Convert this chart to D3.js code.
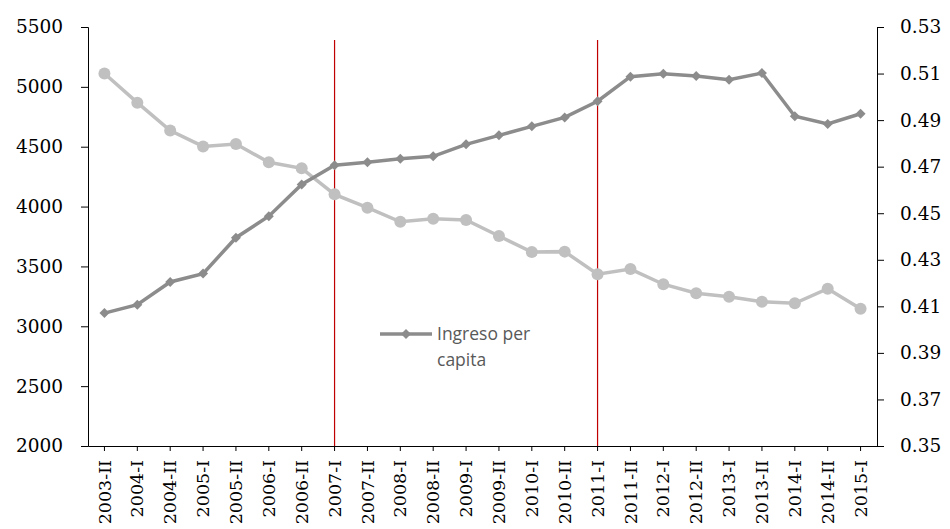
<!DOCTYPE html>
<html><head><meta charset="utf-8">
<script src="https://cdn.jsdelivr.net/npm/d3@7"></script>
<style>body{margin:0;background:#fff}svg{display:block}</style>
</head><body>
<svg id="c" width="950" height="529"></svg>
<script>
const categories = ["2003-II","2004-I","2004-II","2005-I","2005-II","2006-I","2006-II","2007-I","2007-II","2008-I","2008-II","2009-I","2009-II","2010-I","2010-II","2011-I","2011-II","2012-I","2012-II","2013-I","2013-II","2014-I","2014-II","2015-I"];
const ingreso = [3110,3180,3370,3440,3740,3920,4185,4345,4370,4400,4420,4520,4595,4670,4745,4880,5085,5110,5090,5060,5115,4755,4690,4775];
const gini = [0.510,0.4975,0.4855,0.4787,0.4797,0.4719,0.4693,0.4581,0.4524,0.4463,0.4476,0.4471,0.4402,0.4333,0.4335,0.4238,0.4260,0.4195,0.4156,0.4141,0.4120,0.4113,0.4176,0.4090];
const leftTicks = [2000,2500,3000,3500,4000,4500,5000,5500];
const rightTicks = [0.35,0.37,0.39,0.41,0.43,0.45,0.47,0.49,0.51,0.53];
const markerCats = ["2007-I","2011-I"];
const legendLabel = ["Ingreso per","capita"];

const svg = d3.select("#c");
const L = 88, R = 877, T = 27, B = 446;
const x = d3.scaleBand().domain(categories).range([L,R]);
const cx = d => x(d) + x.bandwidth()/2;
const yL = d3.scaleLinear().domain([2000,5500]).range([B,T]);
const yR = d3.scaleLinear().domain([0.35,0.53]).range([B,T]);
const serif = "'DejaVu Serif', serif";

// left axis
const gl = svg.append("g").attr("transform",`translate(${L},0)`)
  .call(d3.axisLeft(yL).tickValues(leftTicks).tickSize(7).tickPadding(18).tickFormat(d3.format("d")));
gl.selectAll("text").attr("font-family",serif).attr("font-size",18.5).attr("fill","#000");
// right axis
const gr = svg.append("g").attr("transform",`translate(${R},0)`)
  .call(d3.axisRight(yR).tickValues(rightTicks).tickSize(7).tickPadding(16).tickFormat(d3.format(".2f")));
gr.selectAll("text").attr("font-family",serif).attr("font-size",18.5).attr("fill","#000");
// bottom axis
const gb = svg.append("g").attr("transform",`translate(0,${B})`)
  .call(d3.axisBottom(x).tickSize(5).tickSizeOuter(0));
gb.selectAll("text").attr("font-family",serif).attr("font-size",17.5).attr("fill","#000")
  .attr("transform","rotate(-90)").attr("text-anchor","end").attr("dx","-14").attr("dy","0.35em").attr("x",0).attr("y",0);
svg.selectAll(".domain").attr("stroke","#000");
svg.selectAll(".tick line").attr("stroke","#000");

// red vertical lines
svg.selectAll("line.mk").data(markerCats).enter().append("line")
  .attr("x1",d=>cx(d)).attr("x2",d=>cx(d)).attr("y1",40).attr("y2",B)
  .attr("stroke","#c00000").attr("stroke-width",1.2);

// gini series
const giniData = categories.map((c,i)=>({c,v:gini[i]}));
svg.append("path").datum(giniData)
  .attr("d",d3.line().x(d=>cx(d.c)).y(d=>yR(d.v)))
  .attr("fill","none").attr("stroke","#c0c0c0").attr("stroke-width",3.5);
svg.selectAll("circle.g").data(giniData).enter().append("circle")
  .attr("cx",d=>cx(d.c)).attr("cy",d=>yR(d.v)).attr("r",6).attr("fill","#c0c0c0");

// ingreso series
const ingData = categories.map((c,i)=>({c,v:ingreso[i]}));
svg.append("path").datum(ingData)
  .attr("d",d3.line().x(d=>cx(d.c)).y(d=>yL(d.v)))
  .attr("fill","none").attr("stroke","#8c8c8c").attr("stroke-width",3.5);
svg.selectAll("path.i").data(ingData).enter().append("path")
  .attr("d",d3.symbol().type(d3.symbolSquare).size(50))
  .attr("transform",d=>`translate(${cx(d.c)},${yL(d.v)}) rotate(45)`)
  .attr("fill","#8c8c8c");

// legend
const lg = svg.append("g");
lg.append("line").attr("x1",380).attr("x2",432).attr("y1",334).attr("y2",334)
  .attr("stroke","#8c8c8c").attr("stroke-width",3.5);
lg.append("path").attr("d",d3.symbol().type(d3.symbolSquare).size(50))
  .attr("transform","translate(406,334) rotate(45)").attr("fill","#8c8c8c");
lg.selectAll("text").data(legendLabel).enter().append("text")
  .attr("x",437).attr("y",(d,i)=>340+i*26).text(d=>d)
  .attr("font-family","'Open Sans', sans-serif").attr("font-size",17.5).attr("fill","#595959");
</script>
</body></html>
